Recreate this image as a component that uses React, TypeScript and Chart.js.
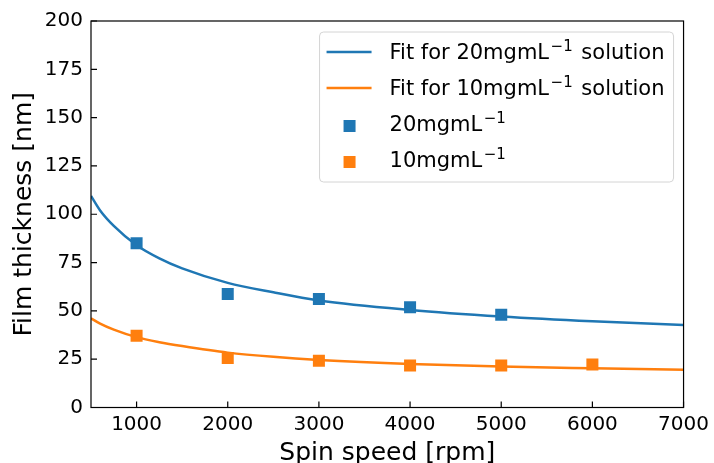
import { useEffect, useRef } from "react";
import { Chart, registerables } from "chart.js";

Chart.register(...registerables);

// Fitted thickness curves, sampled along spin speed
const fitSpeeds = [500, 600, 750, 1000, 1250, 1500, 2000, 2500, 3000, 4000, 5000, 6000, 7000];
const fit20 = [109.5, 102.0, 94.0, 84.0, 77.2, 72.0, 64.5, 59.6, 55.4, 50.5, 47.1, 44.6, 42.7];
const fit10 = [46.2, 43.4, 40.3, 36.4, 33.8, 31.8, 28.4, 26.2, 24.6, 22.5, 21.2, 20.3, 19.5];

// Measured film thickness
const speeds20 = [1000, 2000, 3000, 4000, 5000];
const thickness20 = [85.0, 58.7, 56.1, 51.9, 48.0];
const speeds10 = [1000, 2000, 3000, 4000, 5000, 6000];
const thickness10 = [37.1, 25.6, 24.2, 21.7, 21.7, 22.2];

// Axis ticks
const xTicks = [1000, 2000, 3000, 4000, 5000, 6000, 7000];
const yTicks = [0, 25, 50, 75, 100, 125, 150, 175, 200];

const BLUE = "#1f77b4";
const ORANGE = "#ff7f0e";
const FONT = "'DejaVu Sans', sans-serif";

// Legend entries: text pieces, with "sup" marking superscript runs
type Piece = { t: string; sup?: boolean };
const legendItems: { kind: "line" | "square"; color: string; pieces: Piece[] }[] = [
  { kind: "line", color: BLUE, pieces: [{ t: "Fit for 20mgmL" }, { t: "\u22121", sup: true }, { t: " solution" }] },
  { kind: "line", color: ORANGE, pieces: [{ t: "Fit for 10mgmL" }, { t: "\u22121", sup: true }, { t: " solution" }] },
  { kind: "square", color: BLUE, pieces: [{ t: "20mgmL" }, { t: "\u22121", sup: true }] },
  { kind: "square", color: ORANGE, pieces: [{ t: "10mgmL" }, { t: "\u22121", sup: true }] },
];

const TICK_FONT = 20;
const LEGEND_FONT = 21;
const TITLE_FONT = 25;

const framePlugin = {
  id: "frame",
  afterDatasetsDraw(chart: any) {
    const { ctx, chartArea: a, scales } = chart;
    ctx.save();
    ctx.strokeStyle = "#000";
    ctx.lineWidth = 1.2;
    ctx.beginPath();
    for (const v of xTicks) {
      const px = scales.x.getPixelForValue(v);
      ctx.moveTo(px, a.bottom);
      ctx.lineTo(px, a.bottom - 6);
    }
    for (const v of yTicks) {
      const py = scales.y.getPixelForValue(v);
      ctx.moveTo(a.left, py);
      ctx.lineTo(a.left + 6, py);
    }
    ctx.stroke();
    ctx.strokeRect(a.left, a.top, a.width, a.height);
    ctx.restore();
  },
};

function drawPieces(ctx: CanvasRenderingContext2D, pieces: Piece[], x: number, baseline: number) {
  let cx = x;
  for (const p of pieces) {
    if (p.sup) {
      ctx.font = `${Math.round(LEGEND_FONT * 0.7)}px ${FONT}`;
      ctx.fillText(p.t, cx + 1.5, baseline - 8);
      cx += ctx.measureText(p.t).width + 3.5;
    } else {
      ctx.font = `${LEGEND_FONT}px ${FONT}`;
      ctx.fillText(p.t, cx, baseline);
      cx += ctx.measureText(p.t).width;
    }
  }
}

const legendPlugin = {
  id: "boxLegend",
  afterDraw(chart: any) {
    const { ctx, chartArea: a } = chart;
    const w = 354;
    const h = 150;
    const x0 = a.right - 10 - w;
    const y0 = a.top + 11;
    ctx.save();
    ctx.beginPath();
    ctx.roundRect(x0, y0, w, h, 4);
    ctx.fillStyle = "rgba(255,255,255,0.8)";
    ctx.fill();
    ctx.strokeStyle = "#d4d4d4";
    ctx.lineWidth = 1;
    ctx.stroke();
    ctx.textBaseline = "alphabetic";
    ctx.textAlign = "left";
    legendItems.forEach((item, i) => {
      const base = y0 + 27 + i * 36;
      if (item.kind === "line") {
        ctx.strokeStyle = item.color;
        ctx.lineWidth = 2.5;
        ctx.beginPath();
        ctx.moveTo(x0 + 7, base - 7);
        ctx.lineTo(x0 + 52, base - 7);
        ctx.stroke();
      } else {
        ctx.fillStyle = item.color;
        ctx.fillRect(x0 + 30 - 6, base - 5 - 6, 12, 12);
      }
      ctx.fillStyle = "#000";
      drawPieces(ctx, item.pieces, x0 + 70, base);
    });
    ctx.restore();
  },
};

export default function App() {
  const ref = useRef<HTMLCanvasElement | null>(null);

  useEffect(() => {
    if (!ref.current) return;
    const toXY = (xs: number[], ys: number[]) => xs.map((x, i) => ({ x, y: ys[i] }));
    const chart = new Chart(ref.current, {
      type: "scatter",
      data: {
        datasets: [
          {
            type: "line",
            label: "Fit for 20mgmL\u207B\u00B9 solution",
            data: toXY(fitSpeeds, fit20),
            borderColor: BLUE,
            borderWidth: 2.5,
            pointRadius: 0,
            cubicInterpolationMode: "monotone",
            order: 1,
          },
          {
            type: "line",
            label: "Fit for 10mgmL\u207B\u00B9 solution",
            data: toXY(fitSpeeds, fit10),
            borderColor: ORANGE,
            borderWidth: 2.5,
            pointRadius: 0,
            cubicInterpolationMode: "monotone",
            order: 1,
          },
          {
            label: "20mgmL\u207B\u00B9",
            data: toXY(speeds20, thickness20),
            pointStyle: "rect",
            pointRadius: 8.5,
            backgroundColor: BLUE,
            borderWidth: 0,
            order: 0,
          },
          {
            label: "10mgmL\u207B\u00B9",
            data: toXY(speeds10, thickness10),
            pointStyle: "rect",
            pointRadius: 8.5,
            backgroundColor: ORANGE,
            borderWidth: 0,
            order: 0,
          },
        ],
      },
      options: {
        responsive: false,
        animation: false,
        devicePixelRatio: 1,
        layout: { padding: { top: 21, right: 28, left: 0, bottom: 0 } },
        plugins: { legend: { display: false }, tooltip: { enabled: false } },
        scales: {
          x: {
            type: "linear",
            min: 500,
            max: 7000,
            afterBuildTicks: (s: any) => {
              s.ticks = xTicks.map((value) => ({ value }));
            },
            afterFit: (s: any) => {
              s.height = 55.5;
            },
            grid: { display: false, drawTicks: false },
            border: { display: false },
            ticks: {
              color: "#000",
              font: { family: FONT, size: TICK_FONT },
              padding: 5,
              maxRotation: 0,
              autoSkip: false,
              callback: (v: any) => String(v),
            },
            title: {
              display: true,
              text: "Spin speed [rpm]",
              color: "#000",
              font: { family: FONT, size: TITLE_FONT, lineHeight: 0.8 },
              padding: 0,
            },
          },
          y: {
            type: "linear",
            min: 0,
            max: 200,
            afterBuildTicks: (s: any) => {
              s.ticks = yTicks.map((value) => ({ value }));
            },
            afterFit: (s: any) => {
              s.width = 91;
            },
            grid: { display: false, drawTicks: false },
            border: { display: false },
            ticks: {
              color: "#000",
              font: { family: FONT, size: TICK_FONT },
              padding: 8,
              autoSkip: false,
              callback: (v: any) => String(v),
            },
            title: {
              display: true,
              text: "Film thickness [nm]",
              color: "#000",
              font: { family: FONT, size: TITLE_FONT, lineHeight: 1.2 },
              padding: { top: 9.5, bottom: 0 },
            },
          },
        },
      },
      plugins: [framePlugin, legendPlugin],
    });
    return () => chart.destroy();
  }, []);

  return (
    <div style={{ position: "fixed", left: 0, top: 0, width: 714, height: 463, background: "#fff" }}>
      <canvas ref={ref} width={714} height={463} />
    </div>
  );
}
